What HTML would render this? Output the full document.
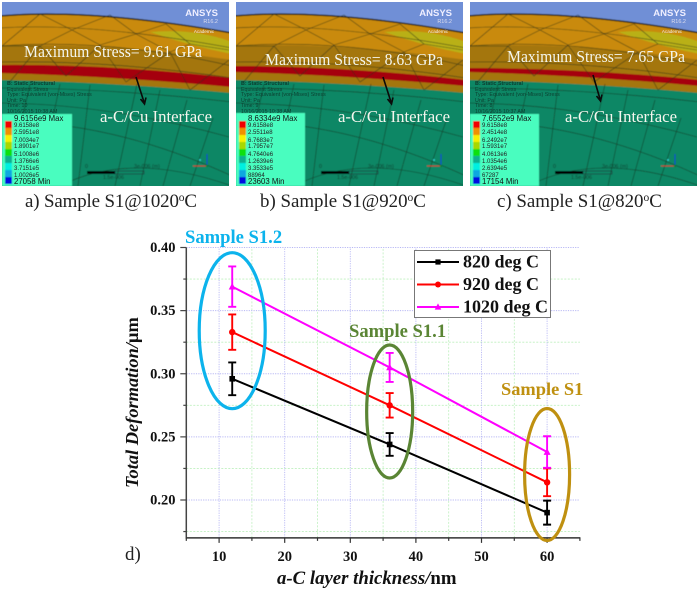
<!DOCTYPE html>
<html lang="en">
<head>
<meta charset="utf-8">
<title>Stress and deformation figure</title>
<style>
html,body{margin:0;padding:0;background:#fff;width:700px;height:591px;overflow:hidden}
svg{display:block}
.ser{font-family:"Liberation Serif",serif}
.san{font-family:"Liberation Sans",sans-serif}
.ov{fill:#f4f6ee;font-family:"Liberation Serif",serif;font-size:16.7px}
.cap{fill:#222;font-family:"Liberation Serif",serif;font-size:18.9px}
.info{fill:#0d3f30;font-family:"Liberation Sans",sans-serif;font-size:5.3px}
.lv{fill:#222;font-family:"Liberation Sans",sans-serif;font-size:6px}
.lt{fill:#111;font-family:"Liberation Sans",sans-serif;font-size:7.8px}
.bold{font-family:"Liberation Serif",serif;font-weight:bold}
</style>
</head>
<body>
<svg id="fig" xmlns="http://www.w3.org/2000/svg" width="700" height="591" viewBox="0 0 700 591">
<defs>
<filter id="soft" x="-2%" y="-2%" width="104%" height="104%"><feGaussianBlur stdDeviation="0.45"/></filter>
<clipPath id="clipP"><rect x="2" y="2" width="227" height="184"/></clipPath>
<g id="layers">
  <rect x="0" y="0" width="232" height="190" fill="#6f8fd6"/>
  <path d="M0,16 Q90,8 232,33 V190 H0 Z" fill="#c98a0c"/>
  <path d="M150,32 Q195,28 232,42 V54 Q190,46 150,32 Z" fill="#b9b012"/>
  <path d="M0,46 Q110,42 232,60 V190 H0 Z" fill="#a4760e"/>
  <path d="M0,80 Q110,82 232,93 V190 H0 Z" fill="#0c8765"/>
  <path d="M0,16 Q90,8 232,33" fill="none" stroke="#1a1a10" stroke-width="1.4"/>
</g>
<g id="mesh" fill="none" stroke="#1c2a18" stroke-width="0.6" stroke-opacity="0.8">
  <path d="M0,28 Q90,22 232,48"/>
  <path d="M0,46 Q110,38 232,66"/>
  <path d="M0,62 Q110,60 232,78"/>
  <path d="M0,88 Q110,88 232,102"/>
  <path d="M0,103 Q110,104 229,137"/>
  <path d="M0,122 Q110,120 232,176"/>
  <path d="M60,186 Q130,150 232,186"/>
  <path d="M40,14 L2,46 M40,14 L72,30 M72,30 L40,46 M72,30 L110,15 M110,15 L136,34 M72,30 L100,45 M136,34 L100,45 M136,34 L166,24 M166,24 L190,44 M136,34 L170,52 M190,44 L170,52 M190,44 L229,50"/>
  <path d="M2,46 L40,46 L66,76 M40,46 L8,84 M100,45 L66,76 M100,45 L126,82 M170,52 L126,82 M170,52 L190,90 M229,60 L190,90"/>
  <path d="M90,85 L78,186 M137,84 L115,186 M160,90 L140,186 M187,100 L163,186 M213,118 L190,186 M30,84 L22,120 M60,84 L52,122"/>
</g>
<g id="bar">
  <rect x="5" y="121" width="7" height="7" fill="#f00000"/>
  <rect x="5" y="128" width="7" height="7" fill="#f09000"/>
  <rect x="5" y="135" width="7" height="7" fill="#f8f000"/>
  <rect x="5" y="142" width="7" height="7" fill="#a8d800"/>
  <rect x="5" y="149" width="7" height="7" fill="#10e010"/>
  <rect x="5" y="156" width="7" height="7" fill="#10b090"/>
  <rect x="5" y="163" width="7" height="7" fill="#00f0e0"/>
  <rect x="5" y="170" width="7" height="7" fill="#10a8e0"/>
  <rect x="5" y="177" width="7" height="7" fill="#0010e0"/>
</g>
<g id="scale">
  <rect x="87" y="171" width="28" height="3" fill="#000"/>
  <rect x="115" y="171" width="29" height="3" fill="none" stroke="#223" stroke-width="0.5"/>
  <text class="info" x="85" y="168">0</text>
  <text class="info" x="134" y="168">3e-006 (m)</text>
  <text class="info" x="103" y="179">1.5e-006</text>
  <path d="M207,166 V154" stroke="#1030d0" stroke-width="1"/>
  <path d="M207,166 H193" stroke="#c02020" stroke-width="1"/>
  <circle cx="207" cy="166" r="1.2" fill="#108030"/>
  <circle cx="200" cy="160" r="1" fill="#30d0d0"/>
</g>
</defs>

<g>
  <g clip-path="url(#clipP)" filter="url(#soft)">
    <use href="#layers"/>
    <path d="M0,65 Q110,64 232,78 V87 Q110,76 0,73 Z" fill="#a5060e"/>
    <use href="#mesh"/>
    <rect x="2" y="114" width="70" height="72" fill="#48fdbf"/>
    <use href="#bar"/>
    <use href="#scale"/>
  </g>
  <g>
    <text class="san" x="218" y="16" text-anchor="end" font-size="9.5" font-weight="bold" fill="#eef">ANSYS</text>
    <text class="san" x="218" y="23" text-anchor="end" font-size="5.5" fill="#dde">R16.2</text>
    <text class="san" x="214" y="33" text-anchor="end" font-size="4.6" fill="#eee">Academic</text>
  </g>
  <g>
    <text class="info" font-weight="bold" x="7" y="85">B: Static Structural</text>
    <text class="info" x="7" y="91">Equivalent Stress</text>
    <text class="info" x="7" y="96">Type: Equivalent (von-Mises) Stress</text>
    <text class="info" x="7" y="102">Unit: Pa</text>
    <text class="info" x="7" y="107">Time: 10</text>
    <text class="info" x="7" y="113">10/16/2015 10:38 AM</text>
  </g>
  <g>
    <text class="lt" x="14" y="121">9.6156e9 Max</text>
    <text class="lv" x="14" y="127">9.6158e8</text><text class="lv" x="14" y="134">2.5951e8</text><text class="lv" x="14" y="142">7.0034e7</text><text class="lv" x="14" y="148">1.8901e7</text><text class="lv" x="14" y="156">5.1008e6</text><text class="lv" x="14" y="163">1.3766e6</text><text class="lv" x="14" y="170">3.7151e5</text><text class="lv" x="14" y="177">1.0026e5</text>
    <text class="lt" x="14" y="184">27058 Min</text>
  </g>
  <text class="ov" x="24" y="57" textLength="178" lengthAdjust="spacingAndGlyphs">Maximum Stress= 9.61 GPa</text>
  <text class="ov" x="100" y="122" textLength="112" lengthAdjust="spacingAndGlyphs">a-C/Cu Interface</text>
  <path d="M136,77 L144,102 M140.500,99 L144.500,104 L146,97.500" fill="none" stroke="#0a0a0a" stroke-width="1.6"/>
  <text class="cap" x="25" y="207" textLength="172">a) Sample S1@1020<tspan font-size="11.500" dy="-6">o</tspan><tspan dy="6">C</tspan></text>
</g>

<g>
  <g transform="translate(234,0)">
    <g clip-path="url(#clipP)" filter="url(#soft)">
      <use href="#layers"/>
      <path d="M0,66 Q110,66 232,80 V86 Q110,75 0,72 Z" fill="#a5060e"/>
      <use href="#mesh"/>
      <rect x="2" y="113" width="69" height="73" fill="#48fdbf"/>
      <use href="#bar"/>
      <use href="#scale"/>
    </g>
    <g>
      <text class="san" x="218" y="16" text-anchor="end" font-size="9.5" font-weight="bold" fill="#eef">ANSYS</text>
      <text class="san" x="218" y="23" text-anchor="end" font-size="5.5" fill="#dde">R16.2</text>
      <text class="san" x="214" y="33" text-anchor="end" font-size="4.6" fill="#eee">Academic</text>
    </g>
    <g>
      <text class="info" font-weight="bold" x="7" y="85">B: Static Structural</text>
      <text class="info" x="7" y="91">Equivalent Stress</text>
      <text class="info" x="7" y="96">Type: Equivalent (von-Mises) Stress</text>
      <text class="info" x="7" y="102">Unit: Pa</text>
      <text class="info" x="7" y="107">Time: 9</text>
      <text class="info" x="7" y="113">10/16/2015 10:38 AM</text>
    </g>
    <g>
      <text class="lt" x="14" y="121">8.6334e9 Max</text>
      <text class="lv" x="14" y="127">9.6158e8</text><text class="lv" x="14" y="134">2.5511e8</text><text class="lv" x="14" y="142">6.7683e7</text><text class="lv" x="14" y="148">1.7957e7</text><text class="lv" x="14" y="156">4.7640e6</text><text class="lv" x="14" y="163">1.2639e6</text><text class="lv" x="14" y="170">3.3533e5</text><text class="lv" x="14" y="177">88964</text>
      <text class="lt" x="14" y="184">23603 Min</text>
    </g>
  </g>
  <text class="ov" x="265" y="65" textLength="178" lengthAdjust="spacingAndGlyphs">Maximum Stress= 8.63 GPa</text>
  <text class="ov" x="338" y="122" textLength="112" lengthAdjust="spacingAndGlyphs">a-C/Cu Interface</text>
  <path d="M383,77 L391,102 M387.500,99 L391.500,104 L393,97.500" fill="none" stroke="#0a0a0a" stroke-width="1.6"/>
  <text class="cap" x="260" y="207">b) Sample S1@920<tspan font-size="11.500" dy="-6">o</tspan><tspan dy="6">C</tspan></text>
</g>

<g>
  <g transform="translate(468,0)">
    <g clip-path="url(#clipP)" filter="url(#soft)">
      <use href="#layers"/>
      <path d="M0,68 Q110,68 232,80 V86 Q110,75 0,72 Z" fill="#a5060e"/>
      <use href="#mesh"/>
      <rect x="2" y="114" width="69" height="72" fill="#48fdbf"/>
      <use href="#bar"/>
      <use href="#scale"/>
    </g>
    <g>
      <text class="san" x="218" y="16" text-anchor="end" font-size="9.5" font-weight="bold" fill="#eef">ANSYS</text>
      <text class="san" x="218" y="23" text-anchor="end" font-size="5.5" fill="#dde">R16.2</text>
      <text class="san" x="214" y="33" text-anchor="end" font-size="4.6" fill="#eee">Academic</text>
    </g>
    <g>
      <text class="info" font-weight="bold" x="7" y="85">B: Static Structural</text>
      <text class="info" x="7" y="91">Equivalent Stress</text>
      <text class="info" x="7" y="96">Type: Equivalent (von-Mises) Stress</text>
      <text class="info" x="7" y="102">Unit: Pa</text>
      <text class="info" x="7" y="107">Time: 8</text>
      <text class="info" x="7" y="113">10/16/2015 10:37 AM</text>
    </g>
    <g>
      <text class="lt" x="14" y="121">7.6552e9 Max</text>
      <text class="lv" x="14" y="127">9.6158e8</text><text class="lv" x="14" y="134">2.4514e8</text><text class="lv" x="14" y="142">6.2492e7</text><text class="lv" x="14" y="148">1.5931e7</text><text class="lv" x="14" y="156">4.0613e6</text><text class="lv" x="14" y="163">1.0354e6</text><text class="lv" x="14" y="170">2.6394e5</text><text class="lv" x="14" y="177">67287</text>
      <text class="lt" x="14" y="184">17154 Min</text>
    </g>
  </g>
  <text class="ov" x="507" y="62" textLength="178" lengthAdjust="spacingAndGlyphs">Maximum Stress= 7.65 GPa</text>
  <text class="ov" x="565" y="122" textLength="112" lengthAdjust="spacingAndGlyphs">a-C/Cu Interface</text>
  <path d="M593,75 L600,99 M596.500,96 L600.500,101 L602,94.500" fill="none" stroke="#0a0a0a" stroke-width="1.6"/>
  <text class="cap" x="497" y="207">c) Sample S1@820<tspan font-size="11.500" dy="-6">o</tspan><tspan dy="6">C</tspan></text>
</g>

<text class="cap" x="125" y="560">d)</text>
<g id="chart"></g>
</svg>

<script>
const thickness = [12, 36, 60];
const seriesNames = ["820 deg C", "920 deg C", "1020 deg C"];
const values820 = [0.296, 0.244, 0.190];
const values920 = [0.333, 0.275, 0.214];
const values1020 = [0.369, 0.305, 0.238];
const errors820 = [0.013, 0.009, 0.0095];
const errors920 = [0.014, 0.0097, 0.011];
const errors1020 = [0.016, 0.0115, 0.0125];
const xTicks = [10, 20, 30, 40, 50, 60];
const xMinorTicks = [15, 25, 35, 45, 55];
const yTicks = [0.20, 0.25, 0.30, 0.35, 0.40];
const yMinorTicks = [0.175, 0.225, 0.275, 0.325, 0.375];

const NS = "http://www.w3.org/2000/svg";
const chart = document.getElementById("chart");
const sx = v => 186.3 + (v - 5) * 6.56;
const sy = v => 500 - (v - 0.2) * 1262.5;
const xEnd = sx(65), yBase = sy(0.17), yTop = sy(0.40);

function mk(tag, attrs, parent) {
  const el = document.createElementNS(NS, tag);
  for (const k in attrs) el.setAttribute(k, attrs[k]);
  (parent || chart).appendChild(el);
  return el;
}
function line(x1, y1, x2, y2, stroke, width, dash) {
  const el = mk("line", {x1, y1, x2, y2, stroke, "stroke-width": width});
  if (dash) el.setAttribute("stroke-dasharray", dash);
  return el;
}

xMinorTicks.forEach(t => {
  const g = line(sx(t), yBase, sx(t), yTop, "#bff0bf", 0.8, "2 1.5");
  
  
});
yMinorTicks.forEach(t => {
  const g = line(sx(5), sy(t), xEnd, sy(t), "#bff0bf", 0.8, "2 1.5");
  
  
});
xTicks.forEach(t => {
  const g = line(sx(t), yBase, sx(t), yTop, "#b8b8f4", 0.9, "1.2 1.2");
  
  
});
yTicks.forEach(t => {
  const g = line(sx(5), sy(t), xEnd, sy(t), "#b8b8f4", 0.9, "1.2 1.2");
  
  
});

const yAxis = line(sx(5), yTop, sx(5), yBase + 0.7, "#444", 1.5);


const xAxis = line(sx(5), yBase, xEnd + 0.5, yBase, "#333", 1.5);



xTicks.forEach(t => {
  const tick = line(sx(t), yBase, sx(t), yBase + 5, "#333", 1.2);
  
  
  const label = mk("text", {x: sx(t), y: 561, "text-anchor": "middle", class: "bold", "font-size": 14.5, fill: "#111"});
  label.textContent = t;
  
  
});
[5, 65].concat(xMinorTicks).forEach(t => {
  const tick = line(sx(t), yBase, sx(t), yBase + 3, "#333", 1.2);
  
  
});
yTicks.forEach(t => {
  const tick = line(sx(5) - 6, sy(t), sx(5), sy(t), "#444", 1.2);
  
  
  const label = mk("text", {x: 175.5, y: sy(t) + 4.5, "text-anchor": "end", class: "bold", "font-size": 14.5, fill: "#111"});
  label.textContent = t.toFixed(2);
  
  
});
yMinorTicks.forEach(t => {
  const tick = line(sx(5) - 3, sy(t), sx(5), sy(t), "#444", 1.2);
  
  
});

function marker(kind, cx, cy, color, r, parent) {
  if (kind === 0) return mk("rect", {x: cx - r, y: cy - r, width: 2 * r, height: 2 * r, fill: color}, parent);
  if (kind === 1) return mk("circle", {cx, cy, r: r + 0.4, fill: color}, parent);
  return mk("polygon", {points: `${cx},${cy - r - 1} ${cx - r - 0.7},${cy + r} ${cx + r + 0.7},${cy + r}`, fill: color}, parent);
}

const allValues = [values820, values920, values1020];
const allErrors = [errors820, errors920, errors1020];
const colors = ["#000000", "#ff0000", "#ff00ff"];

allValues.forEach((vals, s) => {
  const path = mk("polyline", {
    points: vals.map((v, i) => sx(thickness[i]) + "," + sy(v)).join(" "),
    fill: "none", stroke: colors[s], "stroke-width": 2
  });
  
  
});
allValues.forEach((vals, s) => {
  vals.forEach((v, i) => {
    const e = allErrors[s][i];
    const px = sx(thickness[i]);
    const bar = mk("path", {
      d: `M${px - 4},${sy(v + e)} H${px + 4} M${px},${sy(v + e)} V${sy(v - e)} M${px - 4},${sy(v - e)} H${px + 4}`,
      fill: "none", stroke: colors[s], "stroke-width": 1.9
    });
    
    
    const m = marker(s, px, sy(v), colors[s], 2.8);
    
    
  });
});

const blueEllipse = mk("ellipse", {cx: sx(12), cy: 330.7, rx: 33, ry: 78, fill: "none", stroke: "#0cb3ec", "stroke-width": 3.2});


const greenEllipse = mk("ellipse", {cx: sx(36), cy: 411.5, rx: 23, ry: 66.5, fill: "none", stroke: "#5a8534", "stroke-width": 3.2});


const goldEllipse = mk("ellipse", {cx: sx(60), cy: 474.5, rx: 22.5, ry: 66, fill: "none", stroke: "#bf9010", "stroke-width": 3.2});



const lab1 = mk("text", {x: 185, y: 243, class: "bold", "font-size": 18.6, fill: "#0cb3ec"});
lab1.textContent = "Sample S1.2";


const lab2 = mk("text", {x: 349, y: 337, class: "bold", "font-size": 18.6, fill: "#5a8534"});
lab2.textContent = "Sample S1.1";


const lab3 = mk("text", {x: 501, y: 395, class: "bold", "font-size": 18.4, fill: "#bf9010"});
lab3.textContent = "Sample S1";



const legendBox = mk("rect", {x: 414.5, y: 250.5, width: 136, height: 67, fill: "#fff", stroke: "#777", "stroke-width": 1});


seriesNames.forEach((name, s) => {
  const ly = 262 + s * 22.5;
  const l = line(417, ly, 459, ly, colors[s], 2);
  
  
  const m = marker(s, 438, ly, colors[s], 2.6);
  
  
  const t = mk("text", {x: 463, y: ly + 5.5, class: "bold", "font-size": 18, fill: "#111"});
  t.textContent = name;
  
  
});

const xTitle = mk("text", {x: 277, y: 584, class: "bold", "font-size": 18.8, fill: "#111"});
xTitle.innerHTML = '<tspan font-style="italic">a-C layer thickness/</tspan>nm';


const yTitle = mk("text", {transform: "translate(138,488) rotate(-90)", class: "bold", "font-size": 18.4, fill: "#111"});
yTitle.innerHTML = '<tspan font-style="italic">Total Deformation/</tspan>\u00b5m';


</script>
</body>
</html>
